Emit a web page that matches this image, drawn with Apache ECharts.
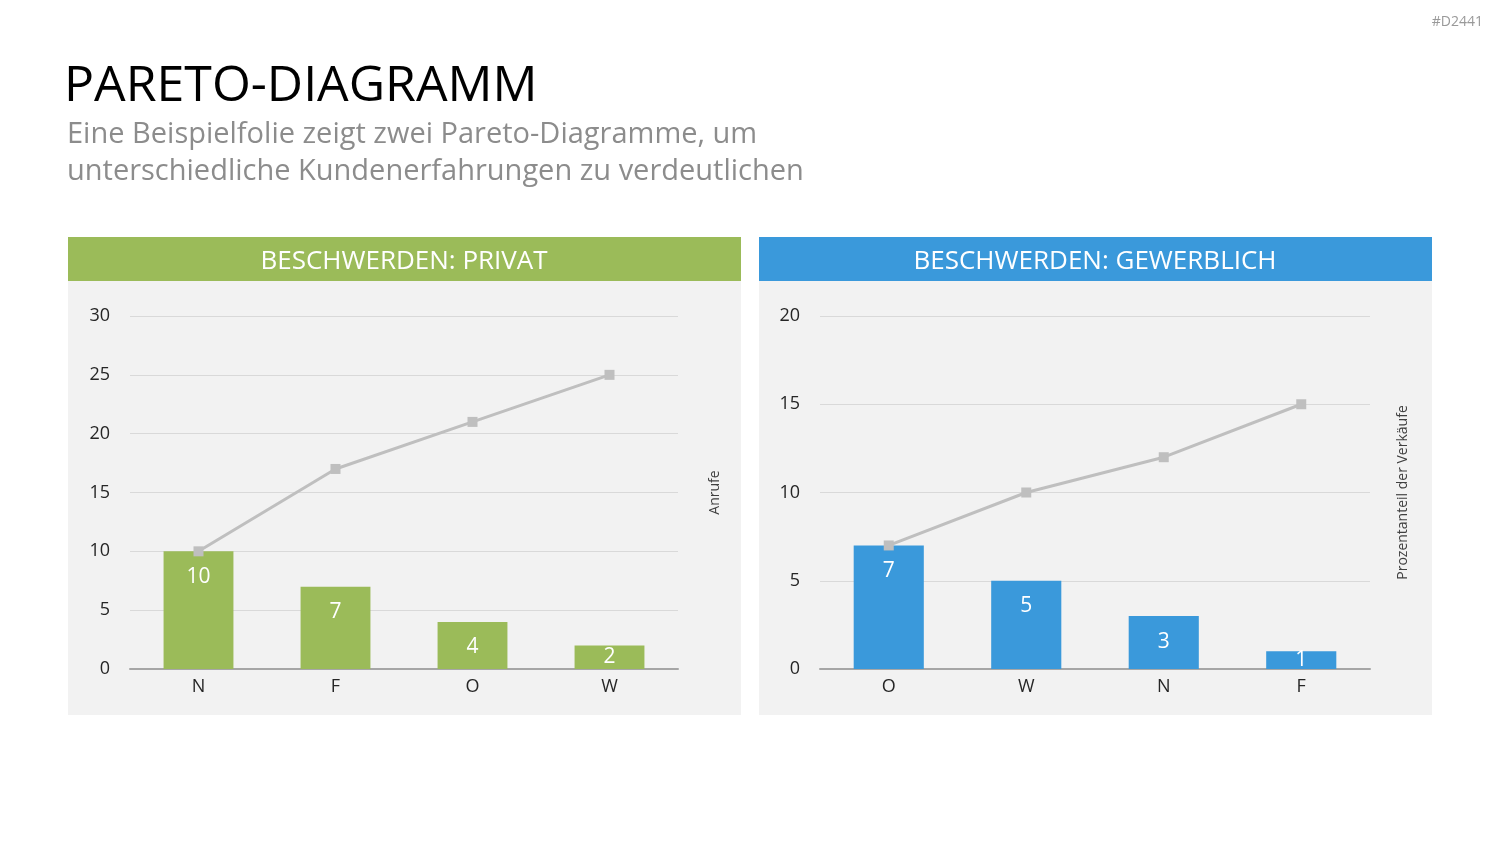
<!DOCTYPE html>
<html>
<head>
<meta charset="utf-8">
<script src="https://cdn.jsdelivr.net/npm/echarts@6/dist/echarts.min.js"></script>
<style>
  html, body { margin: 0; padding: 0; background: #fff; }
  #chart { width: 1500px; height: 844px; }
</style>
</head>
<body>
<div id="chart"></div>
<script>
// Daten
const privatKategorien = ['N', 'F', 'O', 'W']
const privatAnrufe = [10, 7, 4, 2]
const privatKumuliert = [10, 17, 21, 25]

const gewerbKategorien = ['O', 'W', 'N', 'F']
const gewerbAnrufe = [7, 5, 3, 1]
const gewerbKumuliert = [7, 10, 12, 15]

const font = 'Open Sans'
const gruen = '#9BBB59'
const blau = '#3A99DB'
const linie = '#BFBFBF'

function xAchse (idx, data) {
  return {
    type: 'category',
    gridIndex: idx,
    data: data,
    axisLine: { lineStyle: { color: '#A6A6A6', width: 2 } },
    axisTick: { show: false },
    axisLabel: { color: '#262626', fontSize: 18, fontFamily: font, margin: 9 }
  }
}

function yAchse (idx, max) {
  return {
    type: 'value',
    gridIndex: idx,
    min: 0,
    max: max,
    interval: 5,
    axisLine: { show: false },
    axisTick: { show: false },
    axisLabel: { color: '#262626', fontSize: 18, fontFamily: font, margin: 20 },
    splitLine: { lineStyle: { color: '#D9D9D9', width: 1 } }
  }
}

function titelAchse (idx, name, gap) {
  return {
    type: 'value',
    gridIndex: idx,
    position: 'right',
    min: 0,
    max: 1,
    name: name,
    nameLocation: 'middle',
    nameRotate: 90,
    nameGap: gap,
    nameTextStyle: { color: '#404040', fontSize: 14, fontFamily: font },
    axisLine: { show: false },
    axisTick: { show: false },
    axisLabel: { show: false },
    splitLine: { show: false }
  }
}

function balken (idx, data, farbe) {
  // kleine Balken: Beschriftung mittig statt oben
  let punkte = data.map(v => v < 3 ? { value: v, label: { position: 'inside' } } : v)
  return {
    type: 'bar',
    xAxisIndex: idx,
    yAxisIndex: idx,
    data: punkte,
    barWidth: '51%',
    itemStyle: { color: farbe },
    label: {
      show: true,
      position: 'insideTop',
      distance: 15,
      color: '#fff',
      fontSize: 21,
      fontFamily: font
    },
    z: 2
  }
}

function kurve (idx, data) {
  return {
    type: 'line',
    xAxisIndex: idx,
    yAxisIndex: idx,
    data: data,
    symbol: 'rect',
    symbolSize: 10,
    lineStyle: { color: linie, width: 3 },
    itemStyle: { color: linie },
    z: 3
  }
}

function panel (x, farbe, text) {
  return [
    { type: 'rect', shape: { x: x, y: 281, width: 673, height: 434 }, style: { fill: '#F2F2F2' }, z: -10 },
    { type: 'rect', shape: { x: x, y: 237, width: 673, height: 44 }, style: { fill: farbe }, z: -10 },
    {
      type: 'text', x: x + 336, y: 262, z: 10,
      style: { text: text, fill: '#fff', fontSize: 26, fontFamily: font, align: 'center', verticalAlign: 'middle' }
    }
  ]
}

let myChart = echarts.init(document.getElementById('chart'))
myChart.setOption({
  animation: false,
  title: [
    {
      text: 'PARETO-DIAGRAMM',
      left: 59,
      top: 57,
      textStyle: { color: '#000', fontSize: 50, fontWeight: 'normal', fontFamily: font }
    },
    {
      text: 'Eine Beispielfolie zeigt zwei Pareto-Diagramme, um\nunterschiedliche Kundenerfahrungen zu verdeutlichen',
      left: 62,
      top: 111,
      textStyle: { color: '#8C8C8C', fontSize: 29, fontWeight: 'normal', fontFamily: font, lineHeight: 37 }
    },
    {
      text: '#D2441',
      right: 12,
      top: 10,
      textStyle: { color: '#999', fontSize: 14, fontWeight: 'normal', fontFamily: font }
    }
  ],
  graphic: [].concat(
    panel(68, gruen, 'BESCHWERDEN: PRIVAT'),
    panel(759, blau, 'BESCHWERDEN: GEWERBLICH')
  ),
  grid: [
    { left: 130, right: 822, top: 316, bottom: 175 },
    { left: 820, right: 130, top: 316, bottom: 175 }
  ],
  xAxis: [
    xAchse(0, privatKategorien),
    xAchse(1, gewerbKategorien)
  ],
  yAxis: [
    yAchse(0, 30),
    yAchse(1, 20),
    titelAchse(0, 'Anrufe', 30),
    titelAchse(1, 'Prozentanteil der Verkäufe', 26)
  ],
  series: [
    balken(0, privatAnrufe, gruen),
    kurve(0, privatKumuliert),
    balken(1, gewerbAnrufe, blau),
    kurve(1, gewerbKumuliert)
  ]
})
</script>
</body>
</html>
